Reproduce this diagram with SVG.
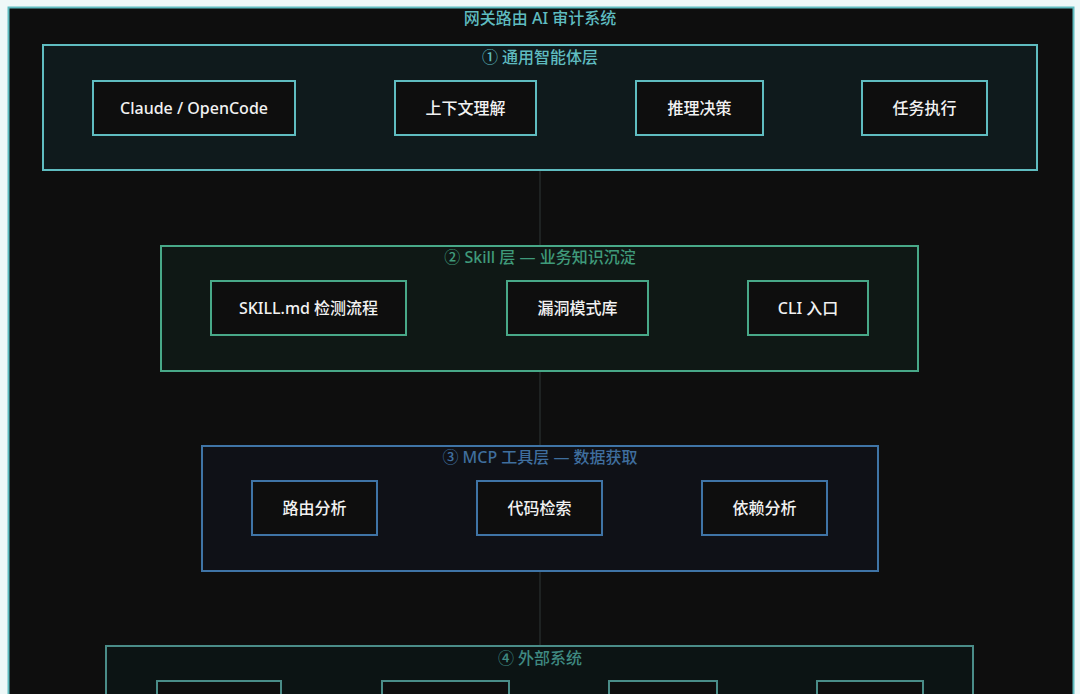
<svg xmlns="http://www.w3.org/2000/svg" width="1080" height="694" viewBox="0 0 1080 694">
<style>
text{font-family:"Noto Sans","Noto Sans CJK SC",sans-serif;text-anchor:middle;dominant-baseline:central}
.node{fill:#0e0e0e;stroke-width:2}
.nt{fill:#f2f2f2;font-size:16px;font-weight:500}
.lt{font-size:16px;font-weight:500}
.c1{stroke:#5fbcc0}
.c2{stroke:#48a888}
.c3{stroke:#3f74a6}
.c4{stroke:#4a8c88}
.conn line{stroke:#252a2a;stroke-width:1.5}
</style>
<rect width="1080" height="694" fill="#eef8f8"/>
<rect x="8.5" y="7.5" width="1065" height="700" fill="#0e0e0e" stroke="#5fbcc0" stroke-width="2"/>
<text x="540" y="18" class="lt" fill="#5fbcc0">网关路由 AI 审计系统</text>
<g id="connectors" class="conn">
<line x1="540" y1="171" x2="540" y2="246"/>
<line x1="540" y1="371" x2="540" y2="446"/>
<line x1="540" y1="571" x2="540" y2="646"/>
<line x1="295" y1="108" x2="395" y2="108"/>
<line x1="536" y1="108" x2="636" y2="108"/>
<line x1="763" y1="108" x2="862" y2="108"/>
<line x1="406" y1="308" x2="507" y2="308"/>
<line x1="648" y1="308" x2="748" y2="308"/>
<line x1="377" y1="508" x2="477" y2="508"/>
<line x1="602" y1="508" x2="702" y2="508"/>
</g>
<g id="layer1">
<rect x="43" y="45" width="994" height="125" fill="#0f1a1c" stroke="#5fbcc0" stroke-width="2"/>
<text x="540" y="57" class="lt" fill="#5fbcc0">① 通用智能体层</text>
</g>
<g id="n-claude"><rect class="node c1" x="93" y="81" width="202" height="54"/><text class="nt" x="194" y="108">Claude / OpenCode</text></g>
<g id="n-context"><rect class="node c1" x="395" y="81" width="141" height="54"/><text class="nt" x="465.5" y="108">上下文理解</text></g>
<g id="n-reason"><rect class="node c1" x="636" y="81" width="127" height="54"/><text class="nt" x="699.5" y="108">推理决策</text></g>
<g id="n-task"><rect class="node c1" x="862" y="81" width="125" height="54"/><text class="nt" x="924.5" y="108">任务执行</text></g>
<g id="layer2">
<rect x="161" y="246" width="757" height="125" fill="#0f1815" stroke="#48a888" stroke-width="2"/>
<text x="540" y="257" class="lt" fill="#3f9a7a">② Skill 层 — 业务知识沉淀</text>
</g>
<g id="n-skill"><rect class="node c2" x="211" y="281" width="195" height="54"/><text class="nt" x="308.5" y="308">SKILL.md 检测流程</text></g>
<g id="n-vuln"><rect class="node c2" x="507" y="281" width="141" height="54"/><text class="nt" x="577.5" y="308">漏洞模式库</text></g>
<g id="n-cli"><rect class="node c2" x="748" y="281" width="120" height="54"/><text class="nt" x="808" y="308">CLI 入口</text></g>
<g id="layer3">
<rect x="202" y="446" width="676" height="125" fill="#0f1117" stroke="#3f74a6" stroke-width="2"/>
<text x="540" y="457" class="lt" fill="#3f6e9e">③ MCP 工具层 — 数据获取</text>
</g>
<g id="n-route"><rect class="node c3" x="252" y="481" width="125" height="54"/><text class="nt" x="314.5" y="508">路由分析</text></g>
<g id="n-code"><rect class="node c3" x="477" y="481" width="125" height="54"/><text class="nt" x="539.5" y="508">代码检索</text></g>
<g id="n-dep"><rect class="node c3" x="702" y="481" width="125" height="54"/><text class="nt" x="764.5" y="508">依赖分析</text></g>
<g id="layer4">
<rect x="106" y="646" width="867" height="125" fill="#0c1414" stroke="#4a8c88" stroke-width="2"/>
<text x="540" y="658" class="lt" fill="#3f8a82">④ 外部系统</text>
</g>
<g id="n-ext1"><rect class="node c4" x="157" y="681" width="124" height="54"/></g>
<g id="n-ext2"><rect class="node c4" x="382" y="681" width="127" height="54"/></g>
<g id="n-ext3"><rect class="node c4" x="609" y="681" width="108" height="54"/></g>
<g id="n-ext4"><rect class="node c4" x="817" y="681" width="106" height="54"/></g>
</svg>
